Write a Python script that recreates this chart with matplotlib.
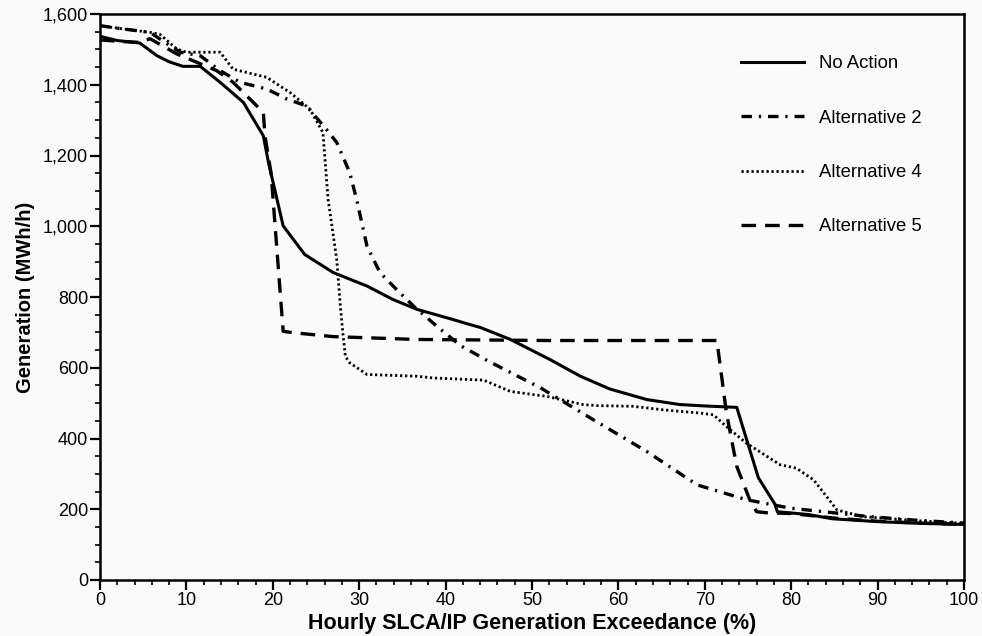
import matplotlib
matplotlib.use("Agg")
import matplotlib.pyplot as plt
from matplotlib.ticker import MultipleLocator, FuncFormatter

plt.rcParams['font.family'] = ['Liberation Sans', 'DejaVu Sans']
plt.rcParams['lines.scale_dashes'] = False

# ---- data ----
x_no_action = [0, 2, 4.6, 6.6, 8, 9.6, 11.6, 13.9, 16.6, 18.9, 19.5, 21.2, 23.7, 27, 30.9,
               33.9, 36.7, 40.9, 42.4, 44, 47.5, 52.1, 55.6, 59, 63.3, 67.1, 70, 73.7,
               76.2, 78.1, 78.4, 82, 84.8, 90, 95, 100]
y_no_action = [1537, 1525, 1518, 1482, 1465, 1452, 1452, 1407, 1350, 1256, 1180, 1001, 920,
               869, 831, 793, 765, 736, 725, 714, 680, 623, 576, 540, 510, 496, 492, 488,
               289, 215, 193, 185, 173, 165, 160, 157]

x_alt2 = [0, 2, 5.8, 7.5, 9.3, 11.6, 13.9, 16.2, 19.3, 21.6, 23.9, 26.2, 27.4, 28.9, 29.7,
          30.9, 32.4, 34.7, 36.3, 39, 41.7, 45, 51, 57.1, 63.3, 69.1, 74.8, 79.9, 85.3,
          89.1, 95, 100]
y_alt2 = [1567, 1560, 1548, 1520, 1492, 1482, 1440, 1407, 1388, 1360, 1340, 1274, 1237,
          1152, 1076, 944, 869, 812, 774, 717, 663, 618, 543, 453, 363, 269, 227, 203, 189,
          179, 168, 161]

x_alt4 = [0, 2, 5.8, 6.9, 8.9, 10, 13.9, 15.4, 19.3, 22, 24.3, 25.8, 26.4, 27.4, 27.8, 28.1,
          28.4, 28.9, 30.9, 36.7, 38.6, 44.4, 47.5, 51.7, 55.9, 57.5, 61.7, 65.2, 69.4, 71,
          72.5, 74.8, 78.7, 80.6, 82.6, 85.3, 88.3, 95, 100]
y_alt4 = [1567, 1560, 1548, 1543, 1501, 1492, 1492, 1444, 1421, 1378, 1331, 1265, 1076, 906,
          780, 700, 632, 614, 581, 576, 571, 565, 533, 519, 496, 493, 491, 481, 472, 467,
          434, 387, 326, 316, 283, 198, 179, 167, 160]

x_alt5 = [0, 2.5, 4.5, 5.8, 8.9, 13.5, 15.4, 18.9, 19.1, 19.8, 21.2, 22.4, 27, 36.6, 52,
          71.4, 72.5, 73.7, 75.2, 76, 77.2, 80, 85, 90, 95, 100]
y_alt5 = [1527, 1522, 1520, 1530, 1487, 1440, 1407, 1322, 1255, 1150, 703, 699, 688, 680,
          677, 677, 473, 321, 227, 193, 190, 188, 175, 166, 161, 157]

labels = ["No Action", "Alternative 2", "Alternative 4", "Alternative 5"]
x_ticks = [0, 10, 20, 30, 40, 50, 60, 70, 80, 90, 100]
y_ticks = [0, 200, 400, 600, 800, 1000, 1200, 1400, 1600]

# ---- figure ----
bg = '#fafafa'
fig = plt.figure(figsize=(9.82, 6.36), dpi=100, facecolor=bg)
ax = fig.add_axes([100 / 982, 1 - 580 / 636, 864 / 982, 566 / 636], facecolor=bg)

ax.plot(x_no_action, y_no_action, color='black', lw=2.2, linestyle='-', label=labels[0])
ax.plot(x_alt2, y_alt2, color='black', lw=2.4, dashes=(7.5, 5.0, 1.6, 5.0), label=labels[1])
ax.plot(x_alt4, y_alt4, color='black', lw=2.0, dashes=(1.6, 2.0), label=labels[2])
ax.plot(x_alt5, y_alt5, color='black', lw=2.4, dashes=(10.5, 6.5), label=labels[3])

ax.set_xlim(0, 100)
ax.set_ylim(0, 1600)
ax.set_xticks(x_ticks)
ax.set_yticks(y_ticks)
ax.xaxis.set_minor_locator(MultipleLocator(2))
ax.yaxis.set_minor_locator(MultipleLocator(50))
ax.yaxis.set_major_formatter(FuncFormatter(lambda v, p: f"{int(v):,}"))

for s in ax.spines.values():
    s.set_linewidth(1.8)
ax.tick_params(which='major', direction='out', length=7, width=1.6, labelsize=13,
               pad=1.5, colors='black')
ax.tick_params(which='minor', direction='out', length=3.5, width=1.2)

ax.set_xlabel("Hourly SLCA/IP Generation Exceedance (%)", fontsize=15.5, fontweight='bold',
              labelpad=3)
ax.set_ylabel("Generation (MWh/h)", fontsize=14.5, fontweight='bold', labelpad=6)

leg = ax.legend(loc='upper left', bbox_to_anchor=(634 / 864, 1 - 34 / 566), frameon=False,
                fontsize=13.3, handlelength=3.4, handletextpad=0.8, labelspacing=2.02,
                borderaxespad=0)

fig.savefig("out.png", dpi=100, facecolor=bg)
